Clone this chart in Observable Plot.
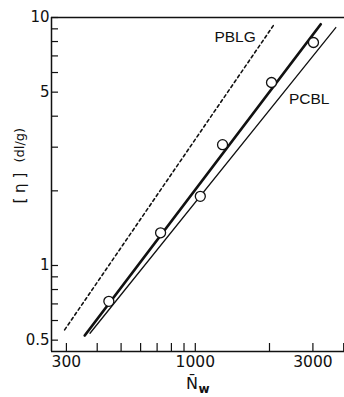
<!DOCTYPE html>
<html><head><meta charset="utf-8">
<script src="https://cdn.jsdelivr.net/npm/d3@7"></script>
<script src="https://cdn.jsdelivr.net/npm/@observablehq/plot@0.6"></script>
<style>html,body{margin:0;padding:0;background:#fff}#chart svg{display:block}</style>
</head><body><div id="chart"></div>
<script>
const xDomain = [261, 4030];
const yDomain = [0.45, 10];
const xTicks = [300, 400, 500, 600, 700, 800, 900, 1000, 2000, 3000, 4000];
const xTickLabels = [300, 1000, 3000];
const yTicks = [0.5, 0.6, 0.7, 0.8, 0.9, 1, 2, 3, 4, 5, 6, 7, 8, 9, 10];
const yTickLabels = [0.5, 1, 5, 10];
const pointN = [446, 723, 1048, 1290, 2038, 3016];
const pointEta = [0.717, 1.355, 1.90, 3.07, 5.47, 7.93];
const pblgN = [295, 2090];
const pblgEta = [0.55, 9.39];
const fitN = [356, 3228];
const fitEta = [0.522, 9.39];
const pcblN = [374, 3715];
const pcblEta = [0.533, 9.11];
const seriesLabels = ["PBLG", "PCBL"];
const labelN = [1450, 2898];
const labelEta = [8.33, 4.69];

const ink = "#111";
const chart = Plot.plot({
  width: 344,
  height: 397,
  marginLeft: 51,
  marginRight: 0,
  marginTop: 17,
  marginBottom: 46,
  style: {fontFamily: "DejaVu Sans", fontSize: "15px", color: ink, background: "#fff"},
  x: {type: "log", domain: xDomain},
  y: {type: "log", domain: yDomain},
  marks: [
    Plot.ruleX([xDomain[0]], {y1: yDomain[0], y2: yDomain[1], stroke: ink, strokeWidth: 1.5}),
    Plot.ruleY(yDomain, {x1: xDomain[0], x2: xDomain[1], stroke: ink, strokeWidth: 1.5}),
    Plot.axisY(yTicks, {anchor: "left", tickSize: -7, fill: "none", label: null, strokeWidth: 1.2}),
    Plot.axisY(yTickLabels, {anchor: "left", tickSize: 0, tickPadding: 2, label: null, tickFormat: d => String(d), fontSize: 15}),
    Plot.axisX(xTicks, {anchor: "bottom", tickSize: -8, fill: "none", label: null, strokeWidth: 1.2}),
    Plot.axisX(xTickLabels, {anchor: "bottom", tickSize: 0, tickPadding: 4, label: null, tickFormat: d => String(d), fontSize: 15.5}),
    Plot.line(pblgN, {x: pblgN, y: pblgEta, stroke: ink, strokeWidth: 1.6, strokeDasharray: "3,3"}),
    Plot.line(fitN, {x: fitN, y: fitEta, stroke: ink, strokeWidth: 2.7}),
    Plot.line(pcblN, {x: pcblN, y: pcblEta, stroke: ink, strokeWidth: 1.3}),
    Plot.dot(pointN, {x: pointN, y: pointEta, r: 5, fill: "#fff", stroke: ink, strokeWidth: 1.3}),
    Plot.text(seriesLabels, {x: labelN, y: labelEta, text: d => d, fontFamily: "Liberation Sans", fontSize: 15.5, fill: ink}),
    Plot.text(["[ η ]"], {frameAnchor: "left", dx: -31, dy: 19, rotate: -90, fontSize: 15, fill: ink}),
    Plot.text(["(dl/g)"], {frameAnchor: "left", dx: -32, dy: -22, rotate: -90, fontSize: 13, fill: ink}),
    Plot.text(["N\u0304"], {frameAnchor: "bottom", dx: -6, dy: 37, fontSize: 16, fill: ink}),
    Plot.text(["w"], {frameAnchor: "bottom", dx: 6, dy: 41, fontSize: 12, fontWeight: "bold", fill: ink})
  ]
});
document.getElementById("chart").appendChild(chart);
</script>
</body></html>
